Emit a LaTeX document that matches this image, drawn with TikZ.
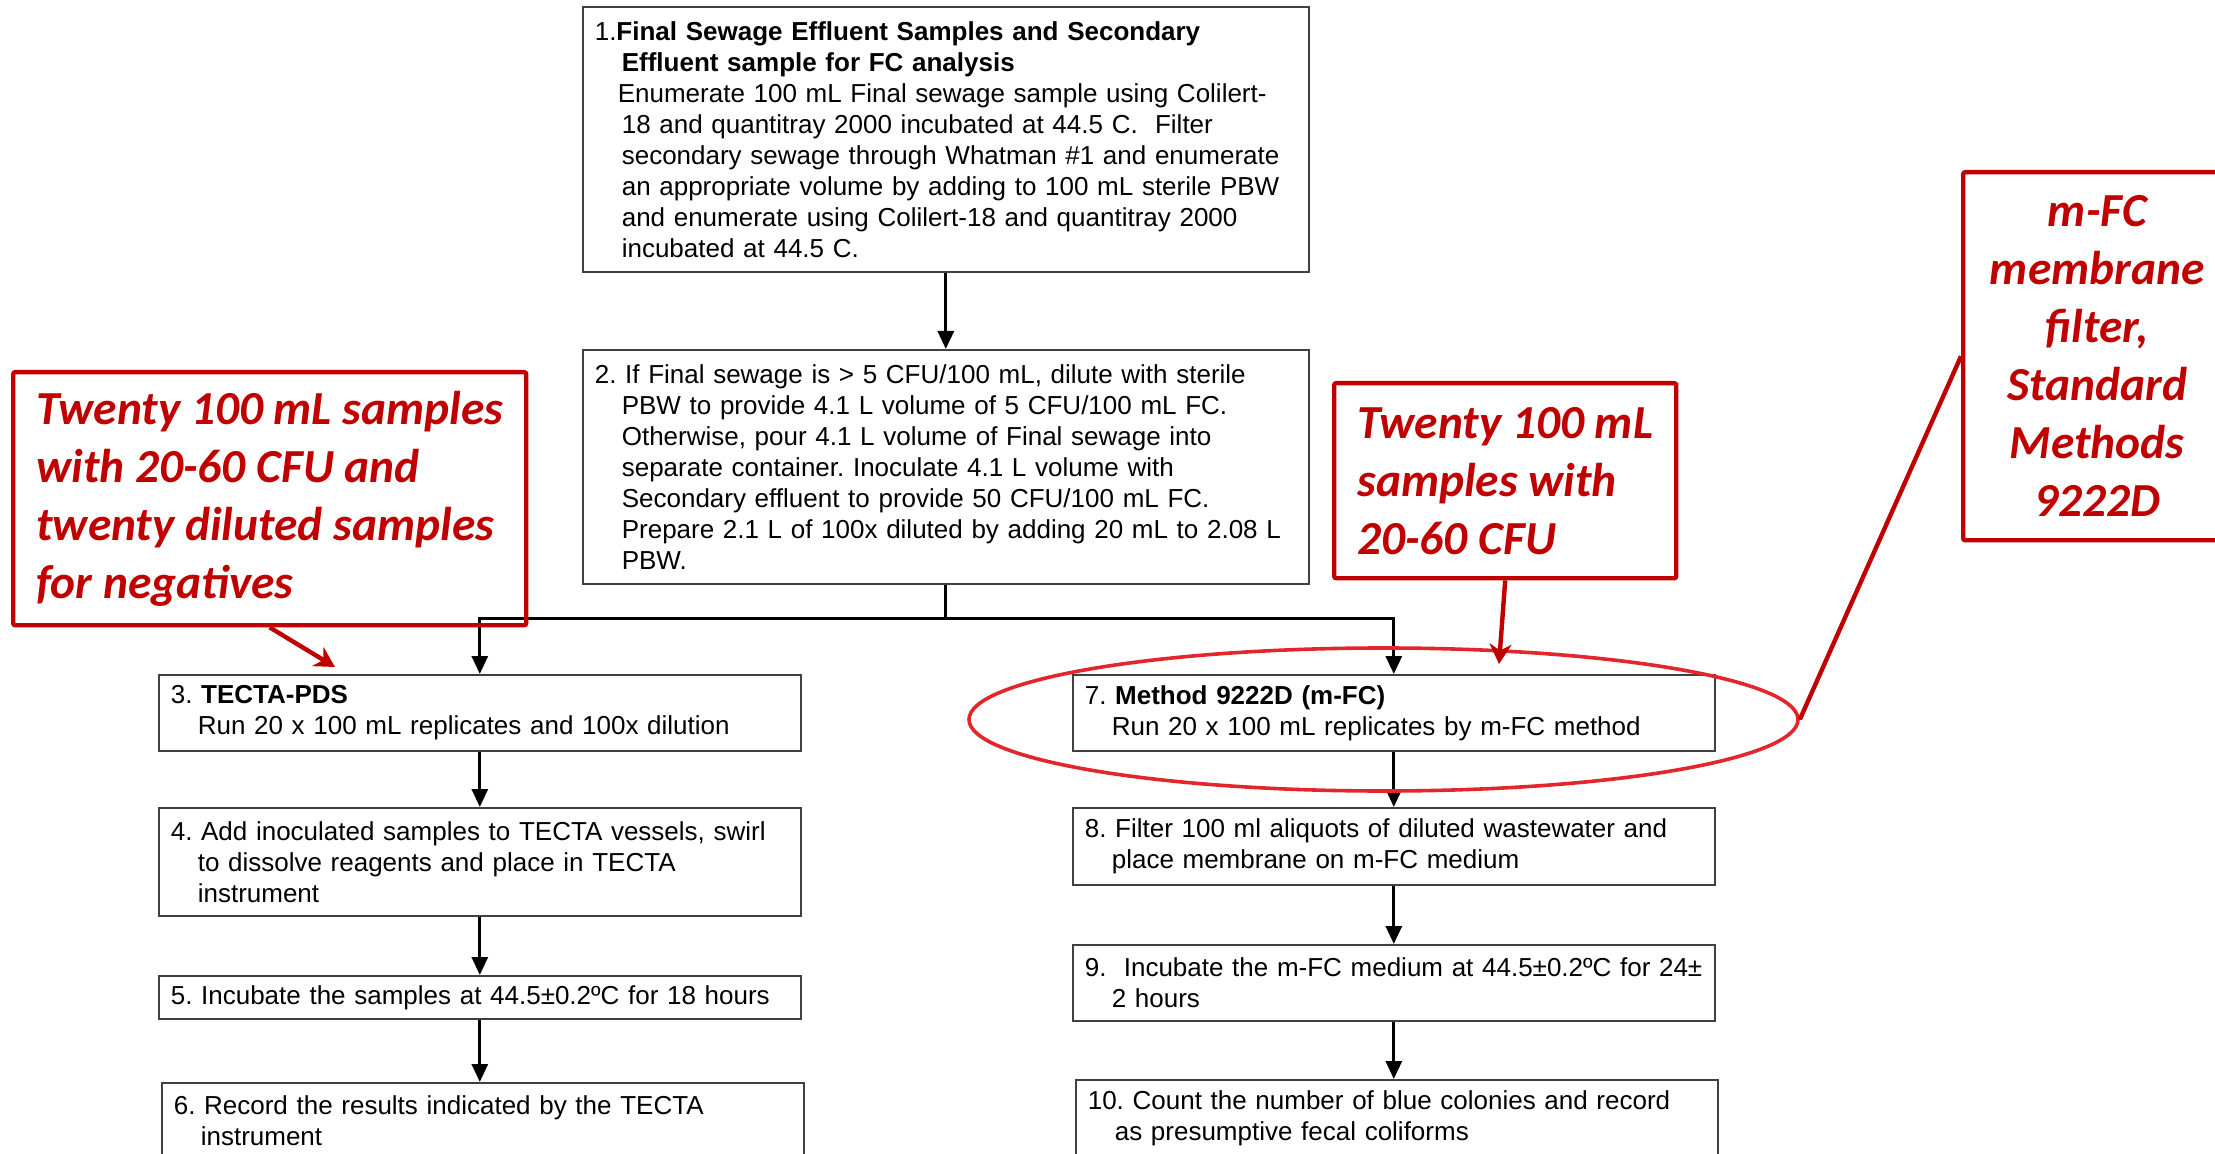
\documentclass[tikz,border=0pt]{standalone}
\usepackage{fontspec}
\setmainfont{Liberation Sans}
\newfontfamily\calfont{Carlito}
\usepackage{tikz}
\usetikzlibrary{arrows.meta}
\usetikzlibrary{calc}
\usetikzlibrary{shapes.geometric}
\definecolor{calred}{HTML}{C00000}
\definecolor{ringred}{HTML}{E3262B}
\definecolor{boxgray}{HTML}{404040}
\newcommand\ind{\hspace*{13.5pt}}
\frenchspacing

\begin{document}
\begin{tikzpicture}[x=0.5pt,y=-0.5pt,
    stepbox/.style={draw=boxgray,line width=0.8pt,anchor=north west,align=left,
      text width=309pt,inner xsep=6pt,inner ysep=2pt,
      font=\fontsize{13}{15.5}\selectfont\frenchspacing},
    callout/.style={draw=calred,line width=2.2pt,rounded corners=1pt,anchor=north west,
      text=calred,inner sep=0pt,font=\calfont\bfseries\itshape\fontsize{23.7}{29}\selectfont},
    ring/.style={ellipse,draw=ringred,line width=1.8pt,inner sep=0pt},
    arr/.style={line width=1.5pt,-{Triangle[width=8pt,length=9pt]}},
    redarr/.style={calred,line width=2.2pt,-{Stealth[width=11pt,length=10pt]}}]
\useasboundingbox (0,0) rectangle (2215,1154);

\node[stepbox,text width=351pt,minimum height=132.5pt] (b1) at (582,6)
  {1.\textbf{Final Sewage Effluent Samples and Secondary}\\
   \ind\textbf{Effluent sample for FC analysis}\\
   \hspace*{11.5pt}Enumerate 100 mL Final sewage sample using Colilert-\\
   \ind 18 and quantitray 2000 incubated at 44.5 C.\ \ Filter\\
   \ind secondary sewage through Whatman \#1 and enumerate\\
   \ind an appropriate volume by adding to 100 mL sterile PBW\\
   \ind and enumerate using Colilert-18 and quantitray 2000\\
   \ind incubated at 44.5 C.};
\node[stepbox,text width=351pt,minimum height=117pt] (b2) at (582,349)
  {2. If Final sewage is > 5 CFU/100 mL, dilute with sterile\\
   \ind PBW to provide 4.1 L volume of 5 CFU/100 mL FC.\\
   \ind Otherwise, pour 4.1 L volume of Final sewage into\\
   \ind separate container. Inoculate 4.1 L volume with\\
   \ind Secondary effluent to provide 50 CFU/100 mL FC.\\
   \ind Prepare 2.1 L of 100x diluted by adding 20 mL to 2.08 L\\
   \ind PBW.};

\node[stepbox,minimum height=38pt] (b3) at (158,674)
  {3. \textbf{TECTA-PDS}\\ \ind Run 20 x 100 mL replicates and 100x dilution};
\node[stepbox,minimum height=54pt] (b4) at (158,807)
  {4. Add inoculated samples to TECTA vessels, swirl\\
   \ind to dissolve reagents and place in TECTA\\
   \ind instrument};
\node[stepbox,minimum height=21.5pt] (b5) at (158,975)
  {5. Incubate the samples at 44.5±0.2ºC for 18 hours};
\node[stepbox,minimum height=38pt] (b6) at (161,1082)
  {6. Record the results indicated by the TECTA\\ \ind instrument};

\node[stepbox,minimum height=38pt] (b7) at (1072,674)
  {7. \textbf{Method 9222D (m-FC)}\\ \ind Run 20 x 100 mL replicates by m-FC method};
\node[stepbox,minimum height=38.5pt] (b8) at (1072,807)
  {8. Filter 100 ml aliquots of diluted wastewater and\\ \ind place membrane on m-FC medium};
\node[stepbox,minimum height=38pt] (b9) at (1072,944)
  {\mbox{9.\ \ Incubate the m-FC medium at 44.5±0.2ºC for 24±}\\ \ind 2 hours};
\node[stepbox,minimum height=38.5pt] (b10) at (1075,1079)
  {10. Count the number of blue colonies and record\\ \ind as presumptive fecal coliforms};

\draw[arr] (b1.south) -- (b2.north);
\coordinate (split) at ($(b2.south)+(0,34)$);
\draw[line width=1.5pt] (b2.south) -- (split);
\draw[arr] (split) -| (b3.north);
\draw[arr] (split) -| (b7.north);
\foreach \a/\b in {b3/b4,b4/b5,b5/b6,b7/b8,b8/b9,b9/b10}
  \draw[arr] (\a.south) -- (\a.south |- \b.north);

\node[ring,minimum width=414.5pt,minimum height=71.5pt] (ring) at (1383.5,719.5) {};

\node[callout,minimum width=256.5pt,minimum height=126.5pt,align=left] (c1) at (11,370)
  {Twenty 100 mL samples\\with 20-60 CFU and\\twenty diluted samples\\for negatives};
\node[callout,minimum width=171pt,minimum height=97.5pt,align=left] (c2) at (1332,381)
  {Twenty 100 mL\\samples with\\20-60 CFU};
\node[callout,minimum width=134pt,minimum height=184pt,align=center] (c3) at (1961,170)
  {m-FC\\membrane\\filter,\\Standard\\Methods\\9222D};

\coordinate (t1) at (335,667);
\coordinate (t2) at (1499,664);
\draw[redarr] (c1.south) -- (t1);
\draw[redarr] (c2.south) -- (t2);
\draw[calred,line width=2.2pt] (c3.west) -- (ring.east);
\end{tikzpicture}
\end{document}
